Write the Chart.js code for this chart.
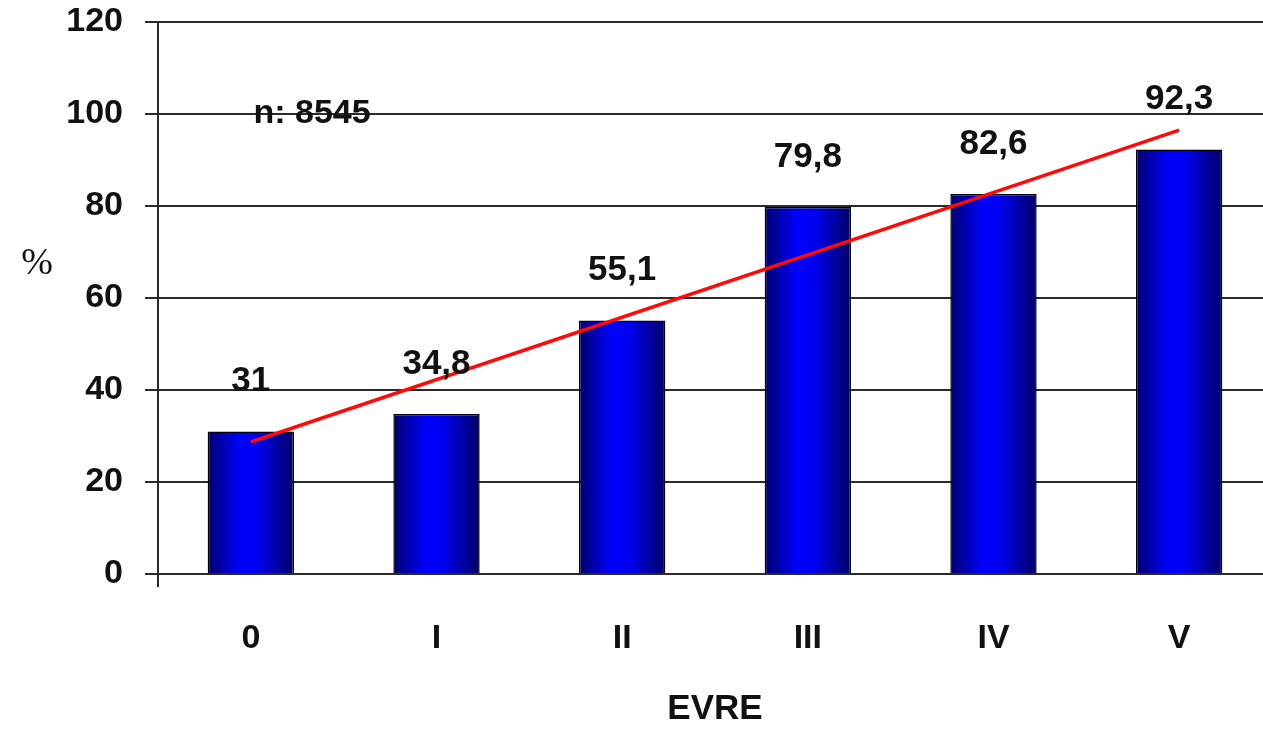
<!DOCTYPE html>
<html lang="tr">
<head>
<meta charset="UTF-8">
<title>EVRE</title>
<script src="https://cdn.jsdelivr.net/npm/chart.js"></script>
<style>
  html, body { margin: 0; padding: 0; background: #fff; overflow: hidden; }
  #wrap { width: 1272px; height: 730px; }
</style>
</head>
<body>
<div id="wrap"><canvas id="chart" width="1272" height="730"></canvas></div>
<script>
// EVRE kategorileri ve yüzdeler
const evre = ['0', 'I', 'II', 'III', 'IV', 'V'];
const yuzde = [31, 34.8, 55.1, 79.8, 82.6, 92.3];
// trend çizgisi: ilk ve son kategorideki değerler
const trend = [28.7, null, null, null, null, 96.5];
const yTicks = [0, 20, 40, 60, 80, 100, 120];
const notText = 'n: 8545';

const FONT = '"Liberation Sans", Arial, sans-serif';
const GRID = '#2a2a2a';

// silindir görünümlü mavi degrade
function barFill(ctx) {
  const chart = ctx.chart;
  const xs = chart.scales.x;
  if (!xs || !chart.chartArea) return '#0000ee';
  const cx = xs.getPixelForValue(ctx.dataIndex);
  const half = (xs.width / evre.length) * 0.465 / 2;
  const g = chart.ctx.createLinearGradient(cx - half, 0, cx + half, 0);
  g.addColorStop(0, '#00006e');
  g.addColorStop(0.38, '#0000ff');
  g.addColorStop(0.58, '#0000f0');
  g.addColorStop(1, '#000066');
  return g;
}

const extras = {
  id: 'extras',
  afterDatasetsDraw(chart) {
    const c = chart.ctx;
    const meta = chart.getDatasetMeta(1);
    c.save();
    c.fillStyle = '#111';
    c.textAlign = 'center';
    c.textBaseline = 'middle';
    c.font = 'bold 35px ' + FONT;
    meta.data.forEach((el, i) => {
      c.fillText(String(yuzde[i]).replace('.', ','), el.x, el.y - 50);
    });
    // örnek sayısı notu
    c.font = 'bold 34px ' + FONT;
    c.fillText(notText, chart.scales.x.getPixelForValue(0.33), chart.scales.y.getPixelForValue(100));
    // y ekseni başlığı (yatay)
    c.font = '38px "Liberation Serif", "Times New Roman", serif';
    c.fillText('%', 37, 264);
    c.restore();
  }
};

new Chart(document.getElementById('chart'), {
  data: {
    labels: evre,
    datasets: [
      {
        type: 'line',
        data: trend,
        borderColor: '#ff0a0a',
        borderWidth: 3.5,
        pointRadius: 0,
        spanGaps: true,
        order: 0
      },
      {
        type: 'bar',
        data: yuzde,
        backgroundColor: barFill,
        borderColor: '#000010',
        borderWidth: 1.5,
        categoryPercentage: 1,
        barPercentage: 0.465,
        order: 1
      }
    ]
  },
  options: {
    responsive: false,
    animation: false,
    layout: { padding: { top: 22, right: 0, bottom: 0, left: 0 } },
    plugins: { legend: { display: false }, tooltip: { enabled: false } },
    scales: {
      x: {
        grid: {
          drawOnChartArea: false,
          tickLength: 13,
          lineWidth: 2,
          color: ctx => ctx.index === 0 ? GRID : 'rgba(0,0,0,0)'
        },
        border: { color: GRID, width: 2 },
        ticks: { color: '#111', padding: 31, font: { family: FONT, size: 34, weight: 'bold' } },
        title: {
          display: true,
          text: 'EVRE',
          color: '#111',
          padding: 0,
          font: { family: FONT, size: 35, weight: 'bold' }
        },
        afterFit: s => { s.height = 156; s.paddingLeft = 0; s.paddingRight = 0; }
      },
      y: {
        min: 0,
        max: 120,
        afterBuildTicks: s => { s.ticks = yTicks.map(v => ({ value: v })); },
        grid: { color: GRID, lineWidth: 2, tickLength: 13 },
        border: { color: GRID, width: 2 },
        ticks: { color: '#111', padding: 22, font: { family: FONT, size: 34, weight: 'bold' } },
        afterFit: s => { s.width = 158; s.paddingTop = 0; s.paddingBottom = 0; }
      }
    }
  },
  plugins: [extras]
});
</script>
</body>
</html>
